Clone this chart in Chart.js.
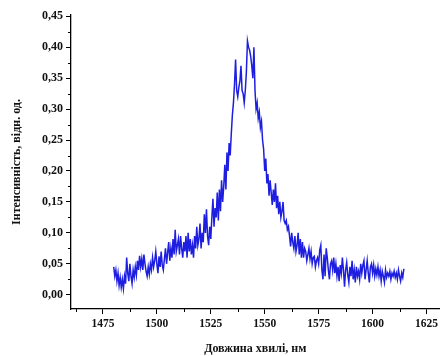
<!DOCTYPE html>
<html>
<head>
<meta charset="utf-8">
<script src="https://cdn.jsdelivr.net/npm/chart.js@4/dist/chart.umd.min.js"></script>
<style>
  html, body { margin: 0; padding: 0; background: #fff; }
</style>
</head>
<body>
<canvas id="spectrum" width="441" height="356"></canvas>
<script>
// spectrum sampled every 0.5 nm, starting at 1480 nm
const startNm = 1480;
const stepNm = 0.5;
const intensity = [
    0.045, 0.030, 0.040, 0.022, 0.035, 0.015, 0.028, 0.012, 0.025, 0.010,
    0.030, 0.018, 0.060, 0.035, 0.022, 0.050, 0.030, 0.018, 0.040, 0.028,
    0.045, 0.032, 0.055, 0.040, 0.063, 0.045, 0.058, 0.040, 0.065, 0.050,
    0.038, 0.030, 0.045, 0.033, 0.050, 0.040, 0.060, 0.045, 0.055, 0.070,
    0.050, 0.035, 0.062, 0.045, 0.070, 0.048, 0.040, 0.058, 0.075, 0.050,
    0.068, 0.085, 0.055, 0.075, 0.060, 0.090, 0.065, 0.105, 0.070, 0.080,
    0.090, 0.065, 0.095, 0.075, 0.060, 0.085, 0.070, 0.095, 0.060, 0.100,
    0.070, 0.090, 0.065, 0.080, 0.060, 0.095, 0.075, 0.110, 0.080, 0.090,
    0.115, 0.075, 0.100, 0.085, 0.130, 0.100, 0.138, 0.095, 0.080, 0.110,
    0.090, 0.125, 0.155, 0.110, 0.140, 0.125, 0.165, 0.120, 0.170, 0.135,
    0.185, 0.150, 0.175, 0.210, 0.170, 0.230, 0.200, 0.245, 0.225, 0.260,
    0.290, 0.310, 0.340, 0.380, 0.330, 0.320, 0.335, 0.345, 0.370, 0.330,
    0.325, 0.310, 0.330, 0.360, 0.410, 0.400, 0.395, 0.385, 0.370, 0.350,
    0.400, 0.330, 0.300, 0.310, 0.285, 0.295, 0.270, 0.280, 0.250, 0.235,
    0.200, 0.220, 0.180, 0.195, 0.160, 0.185, 0.165, 0.145, 0.170, 0.150,
    0.180, 0.140, 0.160, 0.130, 0.150, 0.125, 0.135, 0.150, 0.120, 0.115,
    0.120, 0.105, 0.110, 0.095, 0.078, 0.100, 0.085, 0.075, 0.095, 0.070,
    0.080, 0.100, 0.065, 0.090, 0.060, 0.085, 0.060, 0.075, 0.070, 0.055,
    0.065, 0.075, 0.058, 0.070, 0.050, 0.060, 0.062, 0.045, 0.055, 0.060,
    0.050, 0.072, 0.080, 0.040, 0.025, 0.065, 0.030, 0.075, 0.060, 0.040,
    0.025, 0.050, 0.055, 0.040, 0.060, 0.035, 0.050, 0.030, 0.045, 0.022,
    0.048, 0.035, 0.060, 0.040, 0.013, 0.040, 0.052, 0.032, 0.020, 0.045,
    0.030, 0.055, 0.025, 0.040, 0.020, 0.045, 0.030, 0.038, 0.025, 0.050,
    0.035, 0.048, 0.055, 0.025, 0.040, 0.055, 0.035, 0.020, 0.045, 0.050,
    0.035, 0.048, 0.030, 0.042, 0.032, 0.045, 0.030, 0.040, 0.022, 0.038,
    0.030, 0.020, 0.040, 0.028, 0.035, 0.030, 0.038, 0.025, 0.035, 0.030,
    0.038, 0.028, 0.035, 0.025, 0.040, 0.030, 0.022, 0.035, 0.028, 0.042
];
const wavelength = intensity.map((_, i) => startNm + i * stepNm);

const xTicks = [1475, 1500, 1525, 1550, 1575, 1600, 1625];
const xMinorTicks = [1462.5, 1487.5, 1512.5, 1537.5, 1562.5, 1587.5, 1612.5];
const yTicks = [0, 0.05, 0.10, 0.15, 0.20, 0.25, 0.30, 0.35, 0.40, 0.45];
const yMinorTicks = [0.025, 0.075, 0.125, 0.175, 0.225, 0.275, 0.325, 0.375, 0.425];

const xTitle = "Довжина хвилі, нм";
const yTitle = "Інтенсивність, відн. од.";

const fontFamily = "'Liberation Serif', 'DejaVu Serif', serif";

// short minor ticks, drawn through the scales
const minorTicks = {
    id: "minorTicks",
    afterDraw(chart) {
        const ctx = chart.ctx;
        const xs = chart.scales.x;
        const ys = chart.scales.y;
        ctx.save();
        ctx.strokeStyle = "#000";
        ctx.lineWidth = 1;
        ctx.beginPath();
        xMinorTicks.forEach(v => {
            const px = Math.round(xs.getPixelForValue(v)) + 0.5;
            ctx.moveTo(px, xs.top);
            ctx.lineTo(px, xs.top + 3);
        });
        yMinorTicks.forEach(v => {
            const py = Math.round(ys.getPixelForValue(v)) + 0.5;
            ctx.moveTo(ys.right, py);
            ctx.lineTo(ys.right - 3, py);
        });
        ctx.stroke();
        ctx.restore();
    }
};

new Chart(document.getElementById("spectrum"), {
    type: "line",
    data: {
        datasets: [{
            data: wavelength.map((w, i) => ({ x: w, y: intensity[i] })),
            borderColor: "#1e1ee0",
            borderWidth: 1.5,
            pointRadius: 0,
            tension: 0,
            fill: false
        }]
    },
    options: {
        responsive: false,
        animation: false,
        layout: { padding: { top: 15, right: 0, left: 0, bottom: 0 } },
        plugins: {
            legend: { display: false },
            tooltip: { enabled: false }
        },
        scales: {
            x: {
                type: "linear",
                min: 1460.2,
                max: 1631,
                afterBuildTicks: s => { s.ticks = xTicks.map(v => ({ value: v })); },
                afterFit: s => { s.height = 47; },
                grid: { drawOnChartArea: false, tickLength: 5, color: "#000", tickWidth: 1 },
                border: { color: "#000", width: 1.3 },
                ticks: {
                    color: "#111",
                    padding: 3,
                    maxRotation: 0,
                    font: { family: fontFamily, size: 11.5, weight: "bold" },
                    callback: v => String(v)
                },
                title: {
                    display: true,
                    text: xTitle,
                    color: "#111",
                    padding: { top: 0, bottom: 0 },
                    font: { family: fontFamily, size: 12, weight: "bold" }
                }
            },
            y: {
                min: -0.023,
                max: 0.452,
                afterBuildTicks: s => { s.ticks = yTicks.map(v => ({ value: v })); },
                afterFit: s => { s.width = 71; },
                grid: { drawOnChartArea: false, tickLength: 5, color: "#000", tickWidth: 1 },
                border: { color: "#000", width: 1.3 },
                ticks: {
                    color: "#111",
                    padding: 3,
                    font: { family: fontFamily, size: 12, weight: "bold" },
                    callback: v => v.toFixed(2).replace(".", ",")
                },
                title: {
                    display: true,
                    text: yTitle,
                    color: "#111",
                    padding: { top: 10, bottom: 0 },
                    font: { family: fontFamily, size: 12, weight: "bold" }
                }
            }
        }
    },
    plugins: [minorTicks]
});
</script>
</body>
</html>
